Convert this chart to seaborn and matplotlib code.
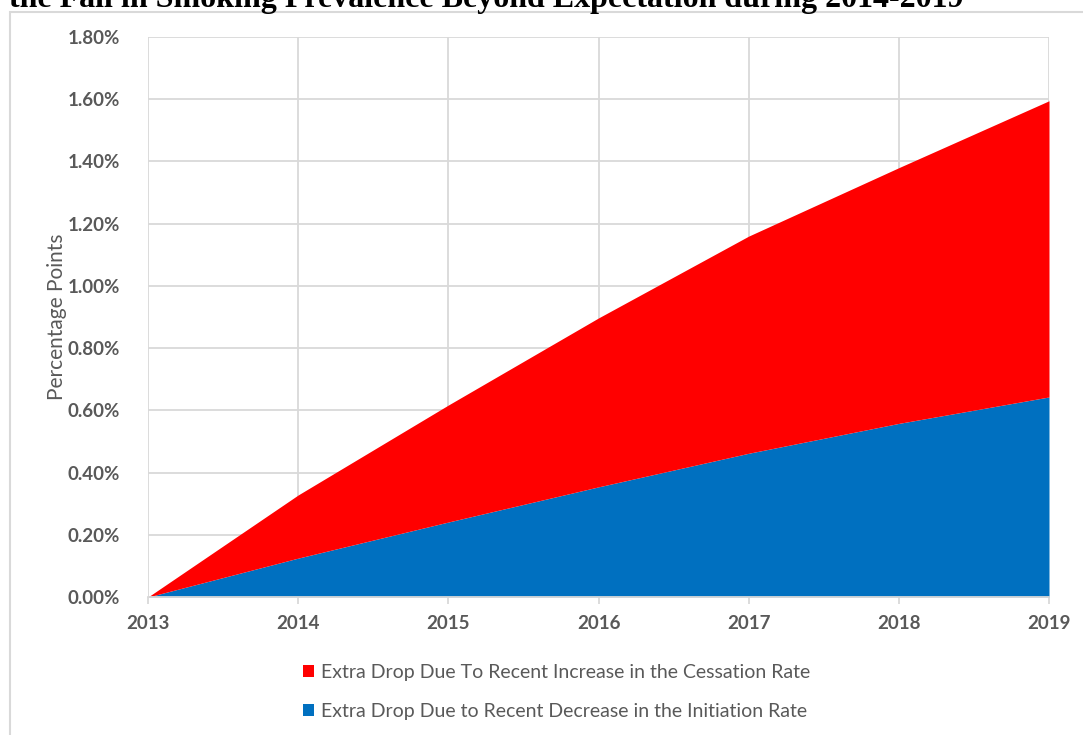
import numpy as np
import seaborn as sns
import matplotlib.pyplot as plt
from matplotlib.patches import Patch, Rectangle
from matplotlib.ticker import FuncFormatter

# values in percentage points
years = [2013, 2014, 2015, 2016, 2017, 2018, 2019]
initiation_drop = [0.0, 0.125, 0.241, 0.354, 0.462, 0.558, 0.643]
total_drop = [0.0, 0.328, 0.617, 0.897, 1.160, 1.380, 1.595]
cessation_drop = list(np.array(total_drop) - np.array(initiation_drop))

labels = ['Extra Drop Due To Recent Increase in the Cessation Rate',
          'Extra Drop Due to Recent Decrease in the Initiation Rate']
title = 'the Fall in Smoking Prevalence Beyond Expectation during 2014-2019'

RED = '#FF0000'
BLUE = '#0070C0'
GRID = '#D9D9D9'
TEXT = '#595959'


def main():
    sns.set_theme(style='whitegrid')
    plt.rcParams['font.family'] = ['Lato', 'DejaVu Sans']

    fig = plt.figure(figsize=(10.83, 7.35), dpi=100)
    ax = fig.add_axes([148 / 1083, 1 - 597 / 735, 901 / 1083, 560 / 735])

    ax.stackplot(years, initiation_drop, cessation_drop,
                 colors=[BLUE, RED], linewidth=0, zorder=3)

    ax.set_xlim(2013, 2019)
    ax.set_ylim(0, 1.8)
    ax.set_xticks(years)
    ax.set_yticks(np.arange(0, 1.81, 0.2))
    ax.yaxis.set_major_formatter(FuncFormatter(lambda v, _: f'{v:.2f}%'))

    ax.grid(True, color=GRID, linewidth=1.3, zorder=0)
    ax.set_axisbelow(True)
    for side in ['top', 'right', 'left']:
        ax.spines[side].set_visible(False)
    ax.spines['bottom'].set_color(GRID)
    ax.spines['bottom'].set_linewidth(1.3)
    ax.spines['bottom'].set_zorder(4)

    ax.tick_params(axis='x', bottom=True, length=5, width=1.3, color=GRID,
                   pad=8, labelsize=13.5, labelcolor=TEXT)
    ax.tick_params(axis='y', left=False, pad=14, labelsize=13.5, labelcolor=TEXT)
    for lab in ax.get_xticklabels() + ax.get_yticklabels():
        lab.set_fontweight('bold')

    fig.text(57 / 1083, 1 - 317 / 735, 'Percentage Points', rotation=90,
             ha='center', va='center', fontsize=15, color=TEXT)

    handles = [Patch(facecolor=RED, edgecolor='none'),
               Patch(facecolor=BLUE, edgecolor='none')]
    fig.legend(handles, labels, loc='center', bbox_to_anchor=(0.514, 0.0585),
               frameon=False, fontsize=14, labelcolor=TEXT,
               handlelength=0.6, handleheight=0.6, handletextpad=0.35,
               labelspacing=1.12)

    # chart frame and cropped title
    fig.patches.append(Rectangle((10 / 1083, -0.1), 1.2, 1 - 12 / 735 + 0.1,
                                 transform=fig.transFigure, fill=False,
                                 edgecolor=GRID, linewidth=1.5))
    fig.text(9 / 1083, 1 - 7 / 735, title, ha='left', va='baseline',
             fontsize=23, fontweight='bold', family='Liberation Serif',
             color='black')

    fig.savefig('out.png', dpi=100)
    plt.close(fig)


if __name__ == '__main__':
    main()
